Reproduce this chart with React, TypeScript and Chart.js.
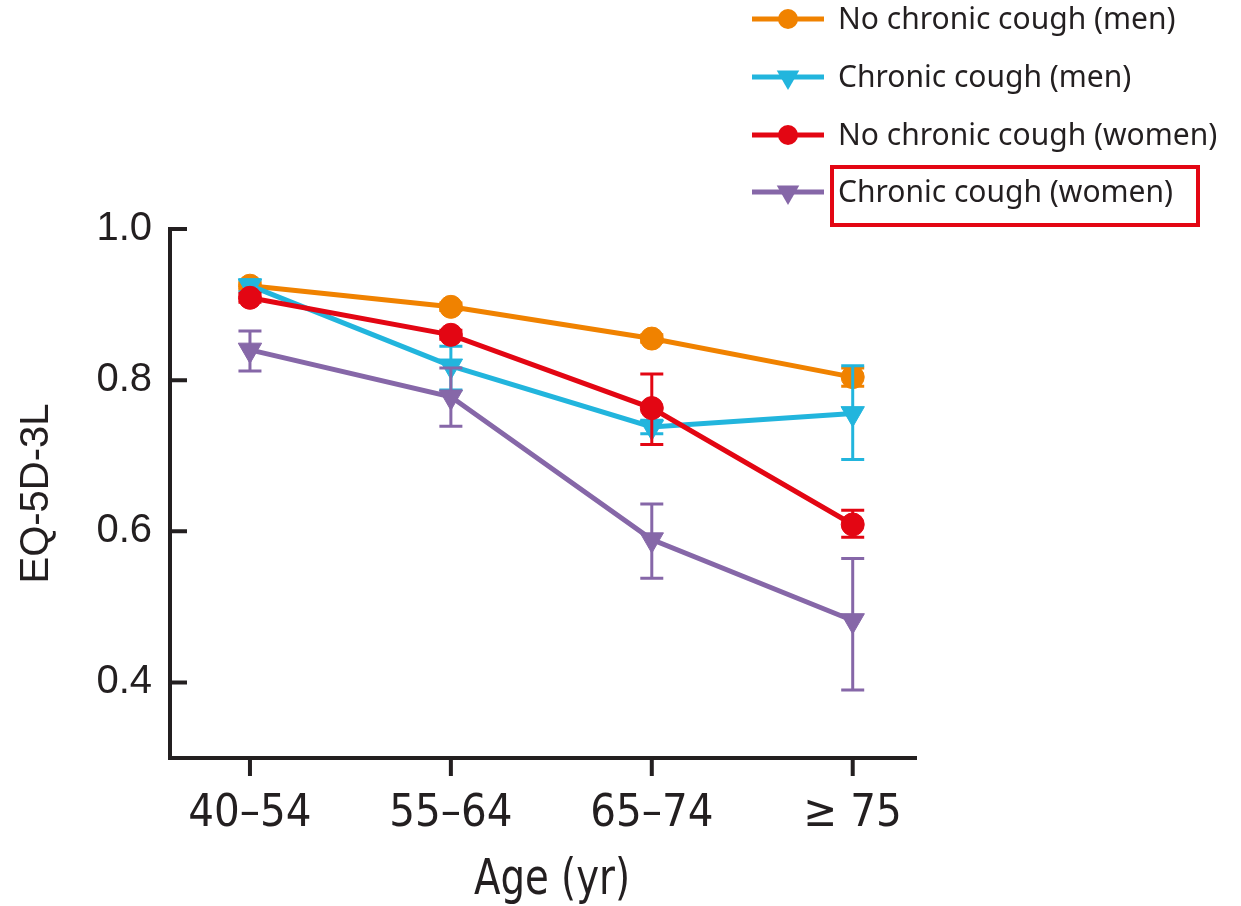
import React, { useEffect, useRef } from "react";
import { Chart, registerables } from "chart.js";

Chart.register(...registerables);

// ---- data ----
const ageGroups = ["40\u201354", "55\u201364", "65\u201374", "\u2265 75"];
const yTickValues = [0.4, 0.6, 0.8, 1.0];

const seriesNames = [
  "No chronic cough (men)",
  "Chronic cough (men)",
  "No chronic cough (women)",
  "Chronic cough (women)",
];
const seriesColors = ["#F08200", "#22B5DD", "#E30613", "#8667A8"];
const seriesMarkers = ["circle", "triangle", "circle", "triangle"];

const noCoughMen = [0.925, 0.897, 0.855, 0.804];
const noCoughMenLow = [0.92, 0.892, 0.85, 0.792];
const noCoughMenHigh = [0.93, 0.902, 0.86, 0.816];

const coughMen = [0.925, 0.819, 0.738, 0.756];
const coughMenLow = [0.917, 0.787, 0.729, 0.695];
const coughMenHigh = [0.933, 0.845, 0.747, 0.819];

const noCoughWomen = [0.909, 0.86, 0.763, 0.609];
const noCoughWomenLow = [0.903, 0.854, 0.715, 0.592];
const noCoughWomenHigh = [0.915, 0.866, 0.808, 0.628];

const coughWomen = [0.84, 0.778, 0.589, 0.482];
const coughWomenLow = [0.812, 0.739, 0.538, 0.39];
const coughWomenHigh = [0.865, 0.816, 0.636, 0.564];

const highlightedSeries = 3;

const INK = "#231F20";
const NARROW = '"Liberation Sans Narrow", "DejaVu Sans Condensed", sans-serif';

function drawMarker(ctx: CanvasRenderingContext2D, kind: string, x: number, y: number, r: number) {
  ctx.beginPath();
  if (kind === "circle") {
    ctx.arc(x, y, r, 0, Math.PI * 2);
  } else {
    ctx.moveTo(x, y + r);
    ctx.lineTo(x - r * Math.sin((2 * Math.PI) / 3), y - r * 0.5);
    ctx.lineTo(x + r * Math.sin((2 * Math.PI) / 3), y - r * 0.5);
    ctx.closePath();
  }
  ctx.fill();
}

const errorBarPlugin = {
  id: "errorBars",
  beforeDatasetDraw(chart: any, args: any) {
    const ds = chart.data.datasets[args.index];
    const xs = chart.scales.x;
    const ys = chart.scales.y;
    const ctx = chart.ctx;
    ctx.save();
    ctx.strokeStyle = ds.borderColor;
    ctx.lineWidth = 3;
    ctx.lineCap = "butt";
    ds.data.forEach((p: any, i: number) => {
      const x = xs.getPixelForValue(p.x);
      const yl = ys.getPixelForValue(ds.errLow[i]);
      const yh = ys.getPixelForValue(ds.errHigh[i]);
      ctx.beginPath();
      ctx.moveTo(x, yl);
      ctx.lineTo(x, yh);
      ctx.moveTo(x - 11.5, yl);
      ctx.lineTo(x + 11.5, yl);
      ctx.moveTo(x - 11.5, yh);
      ctx.lineTo(x + 11.5, yh);
      ctx.stroke();
    });
    ctx.restore();
  },
};

const axesPlugin = {
  id: "customAxes",
  beforeDatasetsDraw(chart: any) {
    const { ctx, chartArea } = chart;
    const xs = chart.scales.x;
    const ys = chart.scales.y;
    ctx.save();
    ctx.strokeStyle = INK;
    ctx.lineWidth = 4;
    ctx.lineCap = "butt";
    ctx.lineJoin = "miter";
    ctx.beginPath();
    ctx.moveTo(chartArea.left, chartArea.top);
    ctx.lineTo(chartArea.left, chartArea.bottom);
    ctx.lineTo(chartArea.right, chartArea.bottom);
    ctx.stroke();
    ctx.beginPath();
    yTickValues.forEach((v) => {
      const y = ys.getPixelForValue(v);
      ctx.moveTo(chartArea.left - 2, y);
      ctx.lineTo(chartArea.left + 17, y);
    });
    ageGroups.forEach((_, i) => {
      const x = xs.getPixelForValue(i);
      ctx.moveTo(x, chartArea.bottom);
      ctx.lineTo(x, chartArea.bottom + 18);
    });
    ctx.stroke();

    // axis titles
    ctx.fillStyle = INK;
    ctx.save();
    ctx.translate(37, (chartArea.top + chartArea.bottom) / 2);
    ctx.rotate(-Math.PI / 2);
    ctx.font = '40px "Liberation Sans", Arial, sans-serif';
    ctx.textAlign = "center";
    ctx.textBaseline = "middle";
    ctx.fillText("EQ-5D-3L", 0, 0);
    ctx.restore();

    ctx.save();
    ctx.translate(552, 894);
    ctx.scale(0.86, 1);
    ctx.font = "50px " + NARROW;
    ctx.textAlign = "center";
    ctx.textBaseline = "alphabetic";
    ctx.fillText("Age (yr)", 0, 0);
    ctx.restore();
    ctx.restore();
  },
};

const legendPlugin = {
  id: "customLegend",
  afterDraw(chart: any) {
    const ctx = chart.ctx;
    const rows = [19, 77, 135, 192];
    ctx.save();
    seriesNames.forEach((name, i) => {
      const y = rows[i];
      ctx.strokeStyle = seriesColors[i];
      ctx.fillStyle = seriesColors[i];
      ctx.lineWidth = 5;
      ctx.beginPath();
      ctx.moveTo(752, y);
      ctx.lineTo(824, y);
      ctx.stroke();
      drawMarker(ctx, seriesMarkers[i], 788, y, seriesMarkers[i] === "circle" ? 10 : 13);
      ctx.fillStyle = INK;
      ctx.font = '30px "Noto Sans", sans-serif';
      ctx.textAlign = "left";
      ctx.textBaseline = "middle";
      ctx.fillText(name, 838, y + 1);
      if (i === highlightedSeries) {
        ctx.strokeStyle = "#E30613";
        ctx.lineWidth = 4;
        ctx.strokeRect(832, y - 25, 366, 58);
      }
    });
    ctx.restore();
  },
};

function makeDataset(i: number, values: number[], low: number[], high: number[]) {
  const isCircle = seriesMarkers[i] === "circle";
  return {
    label: seriesNames[i],
    data: values.map((v, k) => ({ x: k, y: v })),
    errLow: low,
    errHigh: high,
    borderColor: seriesColors[i],
    backgroundColor: seriesColors[i],
    pointBackgroundColor: seriesColors[i],
    pointBorderColor: seriesColors[i],
    pointBorderWidth: 1,
    borderWidth: 5,
    pointStyle: isCircle ? "circle" : "triangle",
    pointRotation: isCircle ? 0 : 180,
    pointRadius: isCircle ? 11.5 : 13.5,
    tension: 0,
    fill: false,
    order: 3 - i,
  };
}

export default function App() {
  const ref = useRef<HTMLCanvasElement | null>(null);
  useEffect(() => {
    if (!ref.current) return;
    const chart = new Chart(ref.current, {
      type: "line",
      data: {
        datasets: [
          makeDataset(0, noCoughMen, noCoughMenLow, noCoughMenHigh),
          makeDataset(1, coughMen, coughMenLow, coughMenHigh),
          makeDataset(2, noCoughWomen, noCoughWomenLow, noCoughWomenHigh),
          makeDataset(3, coughWomen, coughWomenLow, coughWomenHigh),
        ] as any,
      },
      options: {
        animation: false,
        responsive: false,
        devicePixelRatio: 1,
        layout: { padding: { top: 229, right: 324, left: 0, bottom: 0 } },
        plugins: { legend: { display: false }, tooltip: { enabled: false } },
        scales: {
          x: {
            type: "linear",
            min: -0.398,
            max: 3.32,
            grid: { display: false, drawTicks: false },
            border: { display: false },
            afterBuildTicks: (scale: any) => {
              scale.ticks = ageGroups.map((_, i) => ({ value: i }));
            },
            afterFit: (scale: any) => {
              scale.height = 906 - 758;
            },
            ticks: {
              autoSkip: false,
              maxRotation: 0,
              padding: 29,
              color: INK,
              font: { family: NARROW, size: 45 },
              callback: (v: any) => ageGroups[Math.round(Number(v))] ?? "",
            },
          },
          y: {
            type: "linear",
            min: 0.3,
            max: 1.0,
            grid: { display: false, drawTicks: false },
            border: { display: false },
            afterBuildTicks: (scale: any) => {
              scale.ticks = yTickValues.map((v) => ({ value: v }));
            },
            afterFit: (scale: any) => {
              scale.width = 170;
            },
            ticks: {
              padding: 18,
              color: INK,
              font: { family: '"Liberation Sans", Arial, sans-serif', size: 40 },
              callback: (v: any) => Number(v).toFixed(1),
            },
          },
        },
      },
      plugins: [axesPlugin, errorBarPlugin, legendPlugin],
    });
    return () => chart.destroy();
  }, []);
  return (
    <div style={{ position: "absolute", left: 0, top: 0, width: 1241, height: 906, background: "#fff" }}>
      <canvas ref={ref} width={1241} height={906} style={{ display: "block" }} />
    </div>
  );
}
